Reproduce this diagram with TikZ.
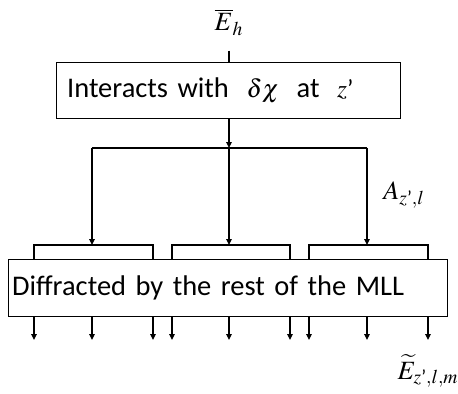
\documentclass[tikz,border=0pt]{standalone}
\usepackage{amsmath}
\usepackage{mathptmx}
\usepackage[no-math]{fontspec}
\setmainfont{Carlito}
\usetikzlibrary{arrows.meta}
\newcommand{\zp}{z\textrm{'}}
\newcommand{\gapsp}{\hspace{0.62em}}

\begin{document}
\begin{tikzpicture}[
    x=0.02cm,y=-0.02cm,
    line width=0.7pt,
    box/.style={draw,anchor=north west,align=left,inner ysep=0pt,
        font=\fontsize{16.2}{19}\selectfont},
    lbl/.style={font=\fontsize{15}{18}\selectfont},
    >={Triangle[length=3.4pt,width=3.2pt]}
]
\useasboundingbox (0,0) rectangle (458,394);

\node[lbl] (Eh) at (229,22) {$\overline{E}_h$};
\node[box,inner xsep=6pt,minimum width=6.88cm,minimum height=1.12cm,
    text width=6.88cm-12pt] (interact) at (56,62)
    {Interacts with\gapsp{\fontsize{14.5}{17}\selectfont$\delta\chi$}\gapsp
     at\gapsp{\fontsize{14.5}{17}\selectfont$\zp$}};
\node[box,inner xsep=2pt,minimum width=8.78cm,minimum height=1.14cm,
    text width=8.78cm-4pt] (diffr) at (8,259)
    {Diffracted by the rest of the MLL};
\node[lbl] (amp) at (404,195) {$A_{\zp,l}$};
\node[lbl] (field) at (428,371) {$\widetilde{E}_{\zp,l,m}$};

\coordinate (split) at (229,148);
\coordinate (br1) at (92,148);
\coordinate (br3) at (367,148);

\draw ([yshift=-5pt]Eh.south) -- (interact.north -| split);
\draw[->] (interact.south -| split) -- (split);
\draw (br1) -- (br3);

% one bracket per branch
\foreach \l/\c/\r in {34/92/153,172/229/290,309/367/428}{
    \draw (\l,0 |- diffr.north) |- (\r,245) -- (\r,0 |- diffr.north);
    \draw[->] (\c,148) -- (\c,245);
}

\foreach \x in {34,92,153,172,229,290,309,367,428}
    \draw[->] (\x,0 |- diffr.south) -- (\x,340);
\end{tikzpicture}
\end{document}
